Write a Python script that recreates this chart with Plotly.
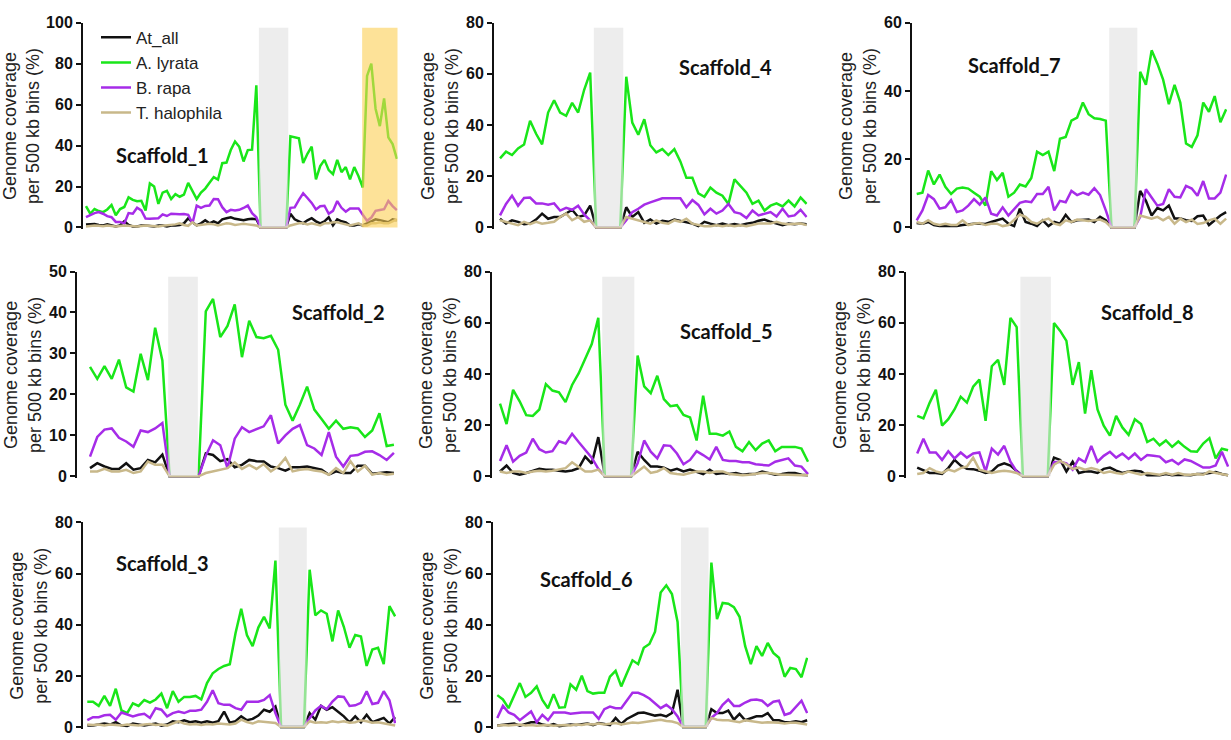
import plotly.graph_objects as go

W, H = 1231, 740

SERIES = ["At_all", "A. lyrata", "B. rapa", "T. halophila"]
COLORS = ["#111111", "#19e619", "#a62ce8", "#c8b88a"]

# ---- coverage per 500 kb bin (%), bins in order along each scaffold ----
s1_at = [1.5, 1.5, 1.7, 1.2, 1, 1.5, 1, 0.5, 1, 3, 1.2, 0.5, 0.5, 1, 1, 0.6, 0.5, 1, 1, 0.5,
         1, 1, 1.2, 2, 4.5, 2.5, 1, 2, 3.5, 2, 3, 2, 4, 4.5, 5, 4.2, 4, 3.5, 4, 4.2, 4,
         0, 0, 0, 0, 0, 0, 0,
         6.7, 4, 3, 2, 3.5, 4.5, 3, 2, 3, 5, 1, 4, 3, 2.5, 1, 1, 1.5, 1, 2, 3, 4, 3.5, 3, 2.5, 4, 3.5]
s1_aly = [10.4, 6.7, 9, 8, 7.5, 8.8, 11, 6, 9, 10, 14.7, 13.5, 12.8, 13, 8.3, 21.5, 20, 11.5, 17, 17.9,
          13.9, 16.3, 15, 16, 21.8, 17.9, 13.9, 17, 19, 21.8, 24.6, 23.4, 31.4, 31.7, 37.8, 42, 39.4, 32.2, 37.8, 38, 69.4,
          0, 0, 0, 0, 0, 0, 0,
          44.5, 44, 43.5, 31.5, 36, 39.5, 23.5, 30, 33, 28, 26, 33, 27, 29.5, 23.5, 29.5, 25, 19.5,
          74, 80, 58, 49.5, 63, 44, 40.7, 33.5]
s1_bra = [5, 6, 7, 7.5, 6.7, 5.5, 5, 2.7, 2.7, 2, 7, 6.7, 9.6, 8.3, 4.3, 4.2, 4.3, 4.5, 6.4, 5.6,
          6.7, 6.5, 6.5, 6.6, 6.2, 2, 10.7, 9.6, 10.5, 10.7, 13.9, 13.8, 9.9, 7.5, 8.6, 8.3, 8.6, 9.5, 10.7, 7, 5,
          0, 0, 0, 0, 0, 0, 0,
          9.6, 9.8, 13.5, 16.7, 14.4, 12, 8.8, 10.4, 10.6, 6.7, 8.1, 12.9, 9.6, 7.7, 9.3, 9.3, 9.3, 6.2,
          3.3, 4.8, 8.1, 8.5, 8.9, 12.9, 10.4, 8.5]
s1_tha = [0.5, 0.8, 1, 0.8, 0.6, 1, 0.8, 0.5, 0.7, 1, 0.8, 0.6, 0.5, 0.7, 1, 0.8, 0.6, 0.5, 0.8, 1,
          1.2, 1.5, 2, 1.2, 0.8, 2.5, 1, 1.2, 1.5, 1.8, 1.5, 1, 1.5, 2, 1.8, 1.2, 1.5, 1.8, 1.5, 1.2, 1,
          0, 0, 0, 0, 0, 0, 0,
          1, 1.5, 2, 2, 1.5, 2, 1.5, 1, 2, 2, 2.5, 2.5, 2, 1.5, 1, 1.5, 2, 1, 1, 2, 2, 2.5, 2, 2, 3, 4]

s4_at = [3.4, 1.5, 2.8, 2.2, 1.3, 1.5, 3.1, 5.4, 3.4, 4.1, 4.1, 5.4, 6.9, 4.1, 4.7, 8.5,
         0, 0, 0, 0, 0,
         7.9, 4.1, 6, 1.8, 3.1, 1.5, 2.6, 2.2, 3.1, 2.6, 2.2, 1.5, 0.5, 2.2, 1.5, 0.9, 1.5, 0.9, 1.3, 0.9,
         1.5, 1.8, 2.6, 3.1, 2.2, 1.5, 0.9, 1.5, 1.3, 1.5, 1.3]
s4_aly = [27, 29.6, 28.3, 30.9, 32.4, 41.7, 36.6, 32.5, 44.9, 49.7, 44.9, 43.6, 48.7, 44.9, 53.8, 60.5,
          0, 0, 0, 0, 0,
          58.9, 41, 36.2, 42.3, 32.1, 29.3, 30.6, 28.3, 30.6, 25.8, 19.4, 19.4, 13.3, 12, 15.6, 13.6, 12.4, 9.2,
          18.8, 16.2, 13.6, 9.2, 10.5, 6.6, 8.5, 9.4, 8.2, 10.5, 8.2, 11.7, 9.2]
s4_bra = [4.7, 9.2, 12.4, 8.5, 11.5, 11.7, 9.4, 9.4, 8.9, 9.4, 6.6, 7.7, 6.9, 8.5, 5.1, 2.8,
          0, 0, 0, 0, 0,
          2.8, 6, 7.3, 8.9, 9.8, 10.7, 11.4, 11.4, 11.4, 11.4, 7.9, 10.7, 8.8, 5.1, 7.3, 5.4, 6.6, 9.2, 6, 5.4,
          3.7, 6.6, 4.7, 5.4, 6, 4.3, 7.3, 4.3, 4.7, 6.9, 4.1]
s4_tha = [2.8, 2.2, 1.5, 0.9, 2.2, 1.3, 2.2, 1.5, 1.8, 2.2, 4.1, 5.4, 2.8, 4.1, 2.2, 2.8,
          0, 0, 0, 0, 0,
          4.1, 3.4, 2.8, 2.2, 1.5, 2.8, 1.8, 1.5, 2.8, 2.2, 3.4, 1.5, 0.9, 0.5, 0.5, 0.9, 0.5, 0.9, 0.5, 0.9,
          0.5, 0.9, 1.5, 1.5, 1.5, 2.2, 1.5, 1.3, 1.5, 1.5, 0.9]

s7_at = [1.3, 1.1, 1.6, 0.7, 0.4, 0.4, 0.4, 0.4, 0.7, 1, 1.1, 1.1, 1, 1.6, 2.1, 2.6, 1.1, 0.4, 5.5, 1.6,
         1.1, 0.4, 2.1, 0.4, 1.6, 1.1, 3.7, 1.6, 2.1, 2.1, 2.3, 1.6, 3.1, 2.1,
         0, 0, 0, 0, 0,
         10.7, 7.8, 3.5, 5.7, 5, 6.4, 2.6, 2.6, 2.1, 1.9, 3.3, 3.5, 0.7, 2.1, 3.5, 4.5]
s7_aly = [9.8, 10.2, 16.7, 12.6, 15.5, 11.9, 9.8, 11.4, 11.7, 11.4, 10.2, 9, 6.4, 16.5, 13.9, 16, 9, 10.2, 12.6, 12,
          14.5, 22.2, 21.2, 22.2, 16.5, 26, 26.5, 31.3, 32.2, 36.6, 33.2, 32, 31.8, 31.3,
          0, 0, 0, 0, 0,
          45.6, 41.8, 51.9, 48, 43.3, 36.1, 41.8, 36.6, 24.6, 23.6, 27, 36.6, 33.9, 38.5, 30.8, 34.6]
s7_bra = [2.1, 5, 9.5, 8.3, 5.5, 5.9, 8, 4.5, 5, 6.4, 8.3, 6.7, 8.8, 4, 3.5, 5.9, 3.5, 5.5, 7.2, 7.7,
          7.4, 9.8, 9.8, 11.9, 5, 7.8, 7.4, 10.7, 9.5, 10.2, 9.6, 11.5, 9.5, 5,
          0, 0, 0, 0, 0,
          3.1, 11.2, 8.8, 6.4, 6.9, 11.2, 9, 8.8, 12.2, 11.4, 9.3, 13.6, 8.5, 8.5, 10.2, 15.5]
s7_tha = [1.6, 1.1, 2.1, 1.1, 0.7, 1.1, 0.7, 0.7, 2.1, 0.7, 1.1, 1.3, 0.7, 1.1, 1.1, 0.4, 0.7, 2.3, 3.8, 3.1,
          1.6, 1.1, 2.1, 2.6, 1.1, 0.7, 2.1, 1.6, 2.3, 2.1, 1.9, 2.1, 2.3, 1.6,
          0, 0, 0, 0, 0,
          3.5, 3.1, 2.6, 3.1, 2.1, 3.1, 1.1, 2.6, 1.6, 2.3, 1, 1.3, 2.1, 2.6, 1.1, 2.6]

s2_at = [2, 3.2, 2.4, 1.8, 1.8, 3.2, 1.6, 2, 4, 3.4, 5.3,
         0, 0, 0, 0, 0,
         5.6, 5.2, 3.7, 4.2, 2.2, 2.8, 4, 3.7, 3.6, 2.4, 2, 1.4, 2.2, 2.2, 2.4, 2, 1.6, 0.4, 1.2, 0.8,
         0.8, 2.6, 2.6, 0.6, 0.8, 1, 0.8]
s2_aly = [26.7, 23.8, 26.9, 23.8, 28.5, 21.7, 20.7, 29.9, 23.5, 36.3, 28.3,
          0, 0, 0, 0, 0,
          40.3, 43.3, 34, 36.7, 42, 29.1, 38, 34, 33.7, 34.3, 30.9, 17.5, 13.6, 17.5, 21.9, 16.3, 14, 11.6,
          13.6, 11.6, 12, 11.7, 9.6, 11.2, 15.4, 7.4, 7.7]
s2_bra = [4.8, 9.6, 11.4, 11.7, 9.4, 8.5, 7.2, 11.2, 10.8, 11.7, 13,
          0, 0, 0, 0, 0,
          5, 8.8, 7.6, 2, 9.2, 12, 10.8, 11.6, 12.2, 14.9, 8, 10, 11.6, 12.5, 7.6, 6.8, 5.2, 10.8, 4.8, 2.4,
          5, 5.2, 6, 6.1, 5.2, 4, 5.7]
s2_tha = [1.2, 1.2, 1.8, 1.2, 1.2, 1.6, 0.8, 1.2, 3.6, 2.8, 2.8,
          0, 0, 0, 0, 0,
          0.8, 1.2, 1.6, 2, 3.4, 1.8, 2.8, 1.8, 3, 1.2, 2.4, 4.5, 1.2, 1.6, 1.8, 1.4, 1.2, 0.4, 2, 0.8,
          3.7, 1.2, 2.6, 0.4, 0.8, 0.4, 0.6]

s5_at = [1.9, 4.2, 1.3, 0.6, 1.3, 2.2, 2.9, 2.6, 2.6, 2.2, 1.9, 2.3, 3.2, 7.7, 5, 15.3,
         0, 0, 0, 0, 0,
         9.6, 6.4, 3.8, 3.8, 3.4, 2.2, 2.9, 1.9, 2.6, 1.9, 0.9, 2.6, 0.9, 1.3, 0.9, 1.3, 0.6, 0.9, 0.9, 1.9,
         1.3, 0.6, 0.9, 1.3, 1.3, 0.6, 0.4]
s5_aly = [28.4, 20.4, 33.8, 29.3, 23.9, 23.6, 26.1, 36, 33.5, 32.8, 29, 35.7, 40.2, 45.9, 51.7, 61.9,
          0, 0, 0, 0, 0,
          47.2, 35.1, 32.5, 39.3, 30.2, 27.4, 27.8, 24, 23, 14, 31.5, 16.6, 16.6, 15.9, 17.5, 11.5, 9.8, 13.4,
          10.2, 12.8, 14, 9.8, 11.5, 11.5, 11.5, 10.8, 5.7]
s5_bra = [6, 12.1, 5.7, 8, 9.3, 14.7, 10.6, 9.3, 9.8, 13.7, 12.8, 16.6, 13.4, 10.5, 7.3, 2.9,
          0, 0, 0, 0, 0,
          5.1, 14, 9.6, 7, 12.1, 11.9, 8.9, 4.7, 6.4, 9.8, 8.3, 6.6, 11.5, 6.4, 6, 6, 5.5, 5.5, 4.7, 4.5,
          4.2, 5.7, 6.4, 7, 4.2, 3.8, 0.9]
s5_tha = [1.9, 1.3, 1.9, 1.9, 1.3, 1.9, 2.2, 1.9, 2.2, 2.6, 3.2, 5.5, 3.8, 1.9, 1.9, 2.6,
          0, 0, 0, 0, 0,
          1.9, 3.8, 1.3, 1.9, 3.2, 1.3, 0.9, 0.6, 1.3, 1.9, 1.9, 1.3, 1.9, 1.9, 0.9, 0.6, 0.4, 0.6, 0.9, 1.3,
          1.3, 0.9, 0.6, 0.6, 0.4, 0.4, 0.4]

s8_at = [3.4, 2.2, 1.3, 1.3, 0.9, 3.2, 6.4, 4.2, 2.9, 2.8, 2.2, 1.3, 1.9, 4.2, 5.1, 4.2, 1.9,
         0, 0, 0, 0, 0,
         7.3, 6.4, 1.9, 5.7, 1.3, 1.9, 1.9, 1.3, 2.9, 3.4, 2.2, 1.3, 1.9, 2.2, 1.9, 0.4, 0.4, 0.4, 0.9, 0.4,
         0.6, 0.4, 0.4, 0.9, 0.9, 1.3, 1.7, 0.9, 0.4]
s8_aly = [23.6, 22.6, 28.7, 33.8, 19.8, 22.3, 26.1, 31.1, 28.8, 35, 37.8, 21.7, 43, 45.5, 35.7, 61.9, 58.3,
          0, 0, 0, 0, 0,
          59.9, 56.8, 52.9, 35.7, 44.6, 24.5, 41.5, 26.1, 19.8, 15.9, 23.6, 19.1, 16.2, 22.3, 20.4, 13.4, 14.7,
          12.1, 14, 11.5, 13.6, 11.5, 9.8, 9.6, 12.8, 14.9, 7, 10.8, 10.2]
s8_bra = [8.9, 14.7, 9.3, 9.3, 6.4, 9.8, 7, 9.3, 7.3, 8.9, 9.3, 1.9, 10.8, 8.5, 11.9, 5.7, 1.9,
          0, 0, 0, 0, 0,
          5.5, 5.7, 5.1, 2.6, 7, 5.5, 11.9, 5.7, 8, 9.6, 7.3, 8.9, 6.8, 8.9, 6.4, 8.3, 8, 7.7, 5.5, 6.4,
          4.7, 6.6, 6, 4.7, 3.4, 3.4, 4.2, 9.6, 3.8]
s8_tha = [0.9, 1.3, 3.2, 1.9, 1.3, 2.6, 1.9, 3.2, 3.8, 7.3, 2.6, 1.9, 1.3, 1.9, 2.2, 1.9, 1.3,
          0, 0, 0, 0, 0,
          4.5, 6, 4.7, 2.9, 3.4, 2.6, 3.2, 2.6, 1.3, 1.9, 1.3, 0.9, 1.9, 1.3, 0.6, 1.3, 0.9, 0.6, 1.3, 0.6,
          1.3, 0.6, 0.6, 0.9, 0.6, 1.9, 1.3, 0.9, 0.4]

s3_at = [0.6, 0.6, 1, 1.4, 1, 1.9, 0.6, 0.4, 1.4, 1, 0.6, 1, 1.4, 0.6, 1, 2.3, 1.9, 2.7, 1.9, 2.3,
         1.7, 2.3, 1.7, 2.3, 6.1, 1.7, 2.3, 4.2, 2.7, 3.2, 4.5, 6.8, 6, 8,
         0, 0, 0, 0, 0,
         5.5, 2.9, 8.3, 6.8, 7.8, 6.1, 4.2, 1.9, 4.2, 1.9, 4.8, 1.9, 2.9, 3.6, 1.4, 3.9]
s3_aly = [9.9, 9.9, 8.3, 12.2, 8.3, 15, 6.5, 5.5, 9.3, 8.3, 10.6, 9.6, 10.8, 13.1, 7.4, 14.1, 9.9, 11.8, 11.8, 12.2,
          10.8, 17.2, 21, 22.7, 23.9, 24.6, 36.7, 46.2, 36, 31.6, 38.9, 43.1, 38.6, 65.1,
          0, 0, 0, 0, 0,
          61.5, 43.7, 45.6, 44.3, 33.5, 45.6, 39.2, 31, 36, 35.4, 23.9, 30.3, 31, 24.6, 47.3, 43.3]
s3_bra = [2.7, 3.9, 3.9, 4.6, 4.8, 2.9, 5.7, 5.1, 4.2, 4.8, 5.2, 3.6, 7.4, 6.8, 4.2, 5.5, 6.1, 5.5, 6.4, 6.4,
          6.8, 9.9, 14.4, 9.3, 8.7, 8.7, 7.4, 6.8, 9.9, 9.9, 9.9, 10.6, 12.5, 5.5,
          0, 0, 0, 0, 0,
          3.5, 6.5, 8.3, 7, 10, 12, 11.8, 8.3, 8.5, 9.5, 14, 9, 9.5, 14, 10.5, 1.5]
s3_tha = [1, 0.8, 1, 0.6, 1, 0.8, 0.6, 1, 0.8, 0.6, 1, 1.2, 0.8, 1, 0.6, 1.4, 2.3, 1.4, 1, 1.2,
          0.8, 1.2, 1, 1.4, 1.2, 1, 1.4, 2.9, 2, 1.4, 2.3, 2, 1.8, 1.6,
          0, 0, 0, 0, 0,
          2.3, 1.7, 1.9, 1.7, 2.3, 1.9, 2.3, 1.7, 1.9, 2.7, 2.3, 1.7, 1.9, 1.4, 1, 0.6]

s6_at = [0.6, 0.8, 1, 1.4, 0.6, 1.2, 1.9, 1.9, 1, 0.6, 1.2, 0.4, 0.6, 1, 0.8, 1.2, 1.4, 0.8, 1.6, 1.2,
         0.8, 3.6, 1.2, 3.2, 4.2, 5.5, 5.7, 5.2, 4.5, 4.8, 4.2, 5.5, 14.6,
         0, 0, 0, 0, 0,
         7, 5.5, 5.5, 6.5, 2.9, 5.2, 2.7, 3.6, 4.2, 4.2, 5.5, 2.7, 2.7, 1.9, 1.9, 2.3, 1.9, 2.7]
s6_aly = [12.5, 10.8, 7.4, 12.5, 17.2, 11.8, 13.4, 15.9, 10.6, 7.4, 12.9, 7.6, 7.8, 16.7, 14.6, 20.1, 14.1, 13.1,
          13.4, 13.4, 19.7, 22, 15.9, 21, 26.1, 24.6, 31, 32.5, 37.3, 52.6, 55.4, 52, 41.1,
          0, 0, 0, 0, 0,
          64.3, 42.2, 48.5, 48.2, 46.9, 43.1, 31.6, 24.6, 31.6, 27.8, 32.9, 29, 27.1, 19.7, 23.1, 22.7, 19.5, 27.1]
s6_bra = [3.6, 8.3, 5.7, 4.8, 2.7, 4.5, 6.1, 1.9, 4.8, 2.7, 5.7, 5.7, 5.7, 5.2, 5.5, 5.7, 5.7, 5.7, 3.2, 7,
          8, 7.4, 7.4, 10.6, 13.4, 13.4, 12.5, 11.2, 9.3, 7.4, 8.7, 7, 4.2,
          0, 0, 0, 0, 0,
          3.6, 5.5, 8.7, 10.8, 8.3, 8.3, 9.6, 10.6, 10.8, 10.3, 8.3, 9.9, 10.3, 4.8, 5.5, 8, 10.3, 5.5]
s6_tha = [0.5, 0.8, 0.6, 0.8, 1, 0.6, 0.8, 0.5, 0.6, 0.8, 0.5, 0.6, 0.8, 0.6, 1, 0.8, 1.2, 1, 1.4, 1,
          1.2, 1.6, 1, 1.4, 1.8, 1.6, 2, 2.2, 2.6, 2.9, 2.4, 2.2, 1.6,
          0, 0, 0, 0, 0,
          3.6, 2.9, 2.7, 2.7, 2.3, 1.9, 2.7, 2.3, 1.9, 1.7, 1.9, 1.9, 1.7, 1.4, 1.7, 1.7, 1.4, 1]

SCAFFOLDS = ["Scaffold_1", "Scaffold_4", "Scaffold_7",
             "Scaffold_2", "Scaffold_5", "Scaffold_8",
             "Scaffold_3", "Scaffold_6"]
DATA = [
    (s1_at, s1_aly, s1_bra, s1_tha),
    (s4_at, s4_aly, s4_bra, s4_tha),
    (s7_at, s7_aly, s7_bra, s7_tha),
    (s2_at, s2_aly, s2_bra, s2_tha),
    (s5_at, s5_aly, s5_bra, s5_tha),
    (s8_at, s8_aly, s8_bra, s8_tha),
    (s3_at, s3_aly, s3_bra, s3_tha),
    (s6_at, s6_aly, s6_bra, s6_tha),
]
Y_MAX = [100, 80, 60, 50, 80, 80, 80, 80]
Y_DTICK = [20, 20, 20, 10, 20, 20, 20, 20]
# centromeric gap (bin index span) shaded in grey
GAP_SPAN = [(40.6, 47.5), (15.6, 20.5), (33.6, 38.5), (10.8, 14.9),
            (15.6, 20.5), (16.6, 21.5), (33.6, 38.5), (32.6, 37.5)]
# highlighted region on Scaffold_1
HIGHLIGHT_SPAN = (64.85, 73.3)

# ---- panel geometry in pixels: axis x, right edge, top, bottom, left pad (bins) ----
GEOM = [
    (83, 397.5, 15, 224, 0.7),
    (494, 807.5, 15, 224, 1.0),
    (912, 1227, 15, 224, 0.82),
    (77, 395, 269, 478, 1.8),
    (492, 809, 269, 478, 1.22),
    (906, 1229, 269, 478, 1.8),
    (83, 396, 525, 734, 0.75),
    (493, 808, 525, 734, 0.76),
]
LABEL_POS = [(162, 150), (725, 60), (1014, 58), (338, 310), (727, 330),
             (1147, 310), (162, 566), (586, 583)]

TICK_FONT = dict(family="Liberation Sans, Arial", size=16, color="#111111", weight="bold")
TITLE_FONT = dict(family="Liberation Sans, Arial", size=18, color="#222222")

fig = go.Figure()
layout = dict(
    width=W, height=H, margin=dict(l=0, r=0, t=0, b=0),
    paper_bgcolor="white", plot_bgcolor="white", showlegend=True,
    legend=dict(x=96 / W, y=1 - 12 / H, xanchor="left", yanchor="top",
                font=dict(family="Liberation Sans, Arial", size=17, color="#222222"),
                bgcolor="rgba(0,0,0,0)", itemwidth=30, tracegroupgap=0),
)
shapes = []
annotations = []
EXT = 2  # px the axis extends below zero so zero-lines are not clipped

for k, (name, series, ymax, dtick, gap, geom, lab) in enumerate(
        zip(SCAFFOLDS, DATA, Y_MAX, Y_DTICK, GAP_SPAN, GEOM, LABEL_POS), start=1):
    ax_px, right_px, top_px, bot_px, pad = geom
    sfx = "" if k == 1 else str(k)
    xref, yref = "x" + sfx, "y" + sfx
    n = len(series[0])
    bins = list(range(n))
    for i, (vals, sname, col) in enumerate(zip(series, SERIES, COLORS)):
        fig.add_trace(go.Scatter(
            x=bins, y=vals, mode="lines", name=sname,
            line=dict(color=col, width=2.5),
            xaxis=xref, yaxis=yref,
            showlegend=(k == 1), legendgroup=sname,
            hoverinfo="skip",
        ))
    ymin = -ymax * EXT / (bot_px - top_px)
    layout["xaxis" + sfx] = dict(
        domain=[ax_px / W, right_px / W], range=[-pad, n - 1 + 0.15],
        visible=False, anchor=yref, fixedrange=True)
    layout["yaxis" + sfx] = dict(
        domain=[1 - (bot_px + EXT) / H, 1 - top_px / H], range=[ymin, ymax],
        anchor=xref, showline=True, linecolor="#111111", linewidth=2,
        ticks="outside", ticklen=5, tickwidth=2, tickcolor="#111111",
        tick0=0, dtick=dtick, showgrid=False, zeroline=False,
        tickfont=TICK_FONT, fixedrange=True,
        title=dict(text="Genome coverage<br>per 500 kb bins (%)",
                   font=TITLE_FONT, standoff=3))
    shapes.append(dict(type="rect", xref=xref, yref=yref + " domain",
                       x0=gap[0], x1=gap[1], y0=EXT / (bot_px + EXT - top_px), y1=0.975,
                       fillcolor="rgba(226,226,226,0.62)", line=dict(width=0),
                       layer="above"))
    if k == 1:
        shapes.append(dict(type="rect", xref=xref, yref=yref + " domain",
                           x0=HIGHLIGHT_SPAN[0], x1=HIGHLIGHT_SPAN[1],
                           y0=EXT / (bot_px + EXT - top_px), y1=0.975,
                           fillcolor="rgba(252,206,84,0.6)", line=dict(width=0),
                           layer="above"))
    annotations.append(dict(text="<b>" + name + "</b>", xref="paper", yref="paper",
                            x=lab[0] / W, y=1 - lab[1] / H, xanchor="center",
                            yanchor="middle", showarrow=False,
                            font=dict(family="Lato, Open Sans", size=20, color="#111111")))

layout["shapes"] = shapes
layout["annotations"] = annotations
fig.update_layout(**layout)
fig.write_html("out.html")
